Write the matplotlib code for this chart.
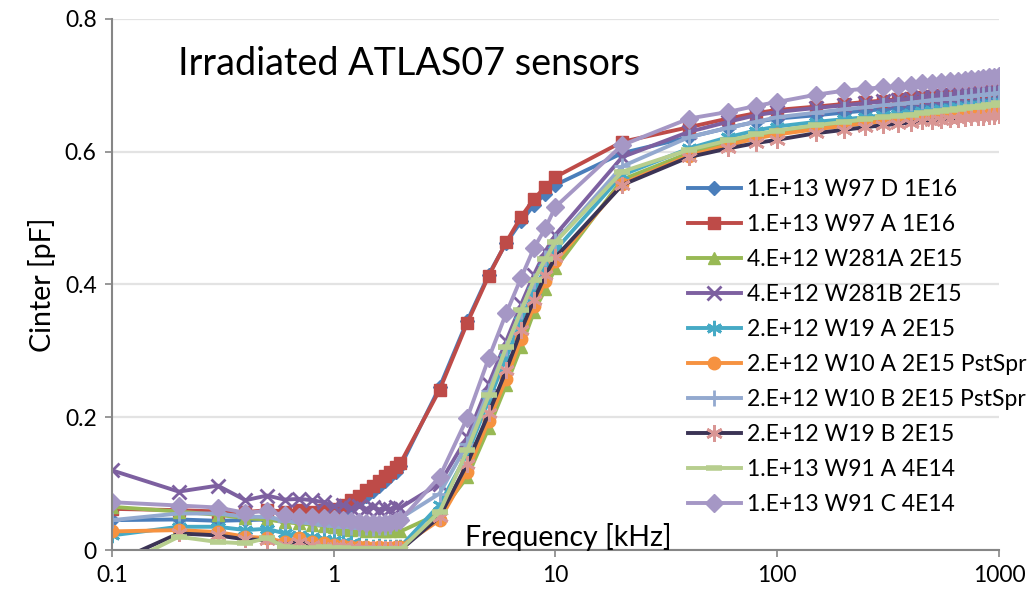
import matplotlib
matplotlib.use('Agg')
import matplotlib.pyplot as plt

plt.rcParams['font.family'] = ['Lato', 'DejaVu Sans']

# frequency points of the sweep [kHz]
freq = [0.1, 0.2, 0.3, 0.4, 0.5, 0.6, 0.7, 0.8, 0.9, 1.0,
        1.1, 1.2, 1.3, 1.4, 1.5, 1.6, 1.7, 1.8, 1.9, 2.0,
        3, 4, 5, 6, 7, 8, 9, 10,
        20, 40, 60, 80,
        100, 150, 200, 250, 300, 350, 400, 450, 500, 550,
        600, 650, 700, 750, 800, 850, 900, 950, 1000]

# Cinter [pF] per sensor
w97d = [0.045, 0.046, 0.044, 0.045, 0.046, 0.045, 0.046, 0.047, 0.048, 0.050,
        0.058, 0.066, 0.074, 0.082, 0.089, 0.097, 0.104, 0.111, 0.118, 0.126,
        0.245, 0.345, 0.415, 0.463, 0.495, 0.520, 0.537, 0.550,
        0.598, 0.622, 0.636, 0.645,
        0.650, 0.655, 0.659, 0.662, 0.664, 0.666, 0.668, 0.669, 0.671, 0.672,
        0.673, 0.674, 0.675, 0.676, 0.677, 0.678, 0.679, 0.680, 0.681]
w97a = [0.062, 0.060, 0.058, 0.057, 0.060, 0.058, 0.060, 0.058, 0.060, 0.062,
        0.068, 0.075, 0.082, 0.090, 0.097, 0.104, 0.111, 0.118, 0.125, 0.131,
        0.241, 0.342, 0.413, 0.464, 0.502, 0.529, 0.547, 0.562,
        0.615, 0.637, 0.650, 0.658,
        0.663, 0.668, 0.672, 0.675, 0.677, 0.679, 0.681, 0.683, 0.684, 0.686,
        0.687, 0.688, 0.689, 0.690, 0.691, 0.692, 0.693, 0.694, 0.696]
w281a = [0.065, 0.058, 0.053, 0.048, 0.046, 0.042, 0.040, 0.038, 0.036, 0.034,
         0.032, 0.030, 0.031, 0.029, 0.030, 0.028, 0.029, 0.028, 0.030, 0.028,
         0.055, 0.110, 0.184, 0.249, 0.306, 0.359, 0.393, 0.425,
         0.558, 0.598, 0.614, 0.623,
         0.630, 0.638, 0.643, 0.647, 0.650, 0.652, 0.654, 0.656, 0.658, 0.659,
         0.661, 0.662, 0.663, 0.664, 0.665, 0.666, 0.667, 0.668, 0.669]
w281b = [0.120, 0.088, 0.097, 0.075, 0.082, 0.076, 0.077, 0.075, 0.072, 0.066,
         0.068, 0.063, 0.066, 0.062, 0.065, 0.061, 0.064, 0.062, 0.065, 0.064,
         0.100, 0.170, 0.250, 0.315, 0.370, 0.415, 0.450, 0.475,
         0.592, 0.630, 0.645, 0.655,
         0.660, 0.666, 0.670, 0.673, 0.676, 0.678, 0.680, 0.682, 0.683, 0.685,
         0.686, 0.687, 0.688, 0.689, 0.690, 0.691, 0.692, 0.693, 0.694]
w19a = [0.022, 0.035, 0.035, 0.030, 0.032, 0.025, 0.022, 0.020, 0.016, 0.015,
        0.012, 0.010, 0.008, 0.006, 0.005, 0.006, 0.004, 0.005, 0.004, 0.005,
        0.068, 0.145, 0.225, 0.290, 0.345, 0.390, 0.425, 0.452,
        0.565, 0.605, 0.622, 0.632,
        0.638, 0.645, 0.649, 0.652, 0.655, 0.657, 0.659, 0.661, 0.663, 0.665,
        0.666, 0.668, 0.669, 0.670, 0.671, 0.672, 0.673, 0.674, 0.676]
w10a = [0.028, 0.030, 0.027, 0.020, 0.018, 0.012, 0.018, 0.012, 0.010, 0.008,
        0.006, 0.005, 0.004, 0.004, 0.003, 0.004, 0.003, 0.003, 0.004, 0.005,
        0.045, 0.118, 0.195, 0.258, 0.318, 0.368, 0.405, 0.435,
        0.552, 0.594, 0.610, 0.620,
        0.626, 0.634, 0.639, 0.643, 0.646, 0.648, 0.650, 0.652, 0.654, 0.655,
        0.657, 0.658, 0.659, 0.660, 0.661, 0.662, 0.663, 0.664, 0.665]
w10b = [0.045, 0.055, 0.055, 0.050, 0.050, 0.044, 0.042, 0.040, 0.038, 0.036,
        0.035, 0.034, 0.033, 0.034, 0.033, 0.035, 0.034, 0.036, 0.040, 0.048,
        0.085, 0.160, 0.240, 0.305, 0.360, 0.405, 0.440, 0.465,
        0.578, 0.622, 0.636, 0.645,
        0.652, 0.659, 0.664, 0.667, 0.670, 0.672, 0.674, 0.676, 0.678, 0.679,
        0.680, 0.682, 0.683, 0.684, 0.685, 0.686, 0.687, 0.688, 0.689]
w19b = [-0.020, 0.025, 0.022, 0.016, 0.015, 0.008, 0.012, 0.008, 0.005, 0.004,
        0.005, 0.003, 0.002, 0.001, 0.002, 0.001, 0.002, 0.001, 0.002, 0.000,
        0.050, 0.130, 0.206, 0.271, 0.331, 0.377, 0.414, 0.441,
        0.550, 0.592, 0.605, 0.613,
        0.618, 0.628, 0.633, 0.637, 0.640, 0.642, 0.644, 0.646, 0.647, 0.648,
        0.649, 0.650, 0.651, 0.652, 0.652, 0.653, 0.654, 0.654, 0.655]
w91a = [-0.030, 0.020, 0.012, 0.010, 0.018, 0.005, 0.003, 0.003, 0.004, 0.003,
        0.003, 0.002, 0.002, 0.001, 0.002, 0.001, 0.001, 0.002, 0.001, 0.001,
        0.057, 0.150, 0.233, 0.306, 0.361, 0.407, 0.438, 0.464,
        0.570, 0.603, 0.617, 0.626,
        0.632, 0.640, 0.645, 0.649, 0.652, 0.654, 0.656, 0.658, 0.660, 0.662,
        0.663, 0.664, 0.666, 0.667, 0.668, 0.669, 0.670, 0.671, 0.673]
w91c = [0.072, 0.067, 0.064, 0.056, 0.059, 0.052, 0.050, 0.050, 0.048, 0.046,
        0.045, 0.043, 0.042, 0.040, 0.041, 0.039, 0.040, 0.041, 0.043, 0.045,
        0.110, 0.199, 0.289, 0.357, 0.410, 0.455, 0.485, 0.517,
        0.610, 0.650, 0.660, 0.669,
        0.675, 0.686, 0.692, 0.695, 0.697, 0.699, 0.701, 0.703, 0.704, 0.705,
        0.706, 0.707, 0.708, 0.709, 0.710, 0.711, 0.712, 0.713, 0.714]

labels = ['1.E+13 W97 D 1E16', '1.E+13 W97 A 1E16', '4.E+12 W281A 2E15',
          '4.E+12 W281B 2E15', '2.E+12 W19 A 2E15', '2.E+12 W10 A 2E15 PstSpr',
          '2.E+12 W10 B 2E15 PstSpr', '2.E+12 W19 B 2E15', '1.E+13 W91 A 4E14',
          '1.E+13 W91 C 4E14']
series = [w97d, w97a, w281a, w281b, w19a, w10a, w10b, w19b, w91a, w91c]

# line colour, marker, marker colour, marker size, marker edge width
styles = [
    ('#4A7EBB', 'D', '#4A7EBB', 7, 1),
    ('#BE4B48', 's', '#BE4B48', 9, 1),
    ('#98B954', '^', '#98B954', 8, 1),
    ('#7D60A0', 'x', '#7D60A0', 10, 2),
    ('#46AAC5', (6, 2, 0), '#46AAC5', 11, 2),
    ('#F69240', 'o', '#F69240', 9, 1),
    ('#93A9CF', '+', '#93A9CF', 12, 2),
    ('#3B3355', (6, 2, 0), '#D99694', 12, 2),
    ('#B7CE8E', '_', '#B7CE8E', 11, 4),
    ('#A597C5', 'D', '#A597C5', 9, 1),
]

fig = plt.figure(figsize=(10.3, 5.99), dpi=100)
ax = fig.add_axes([0.1087, 0.0818, 0.8612, 0.8865])

for vals, lab, (lc, mk, mc, ms, mew) in zip(series, labels, styles):
    ax.plot(freq, vals, color=lc, lw=2.8, marker=mk, markersize=ms,
            markerfacecolor=mc, markeredgecolor=mc, markeredgewidth=mew,
            label=lab)

ax.set_xscale('log')
ax.set_xlim(0.1, 1000)
ax.set_ylim(0, 0.8)
ax.set_xticks([0.1, 1, 10, 100, 1000])
ax.set_xticklabels(['0.1', '1', '10', '100', '1000'])
ax.minorticks_off()
ax.set_yticks([0, 0.2, 0.4, 0.6, 0.8])
ax.set_yticklabels(['0', '0.2', '0.4', '0.6', '0.8'])
ax.tick_params(labelsize=16.5, length=5, width=1.2, color='#868686', pad=6)

ax.yaxis.grid(True, color='#E3E3E3', lw=1.6)
ax.set_axisbelow(True)
for s in ['top', 'right']:
    ax.spines[s].set_visible(False)
for s in ['left', 'bottom']:
    ax.spines[s].set_color('#868686')
    ax.spines[s].set_linewidth(1.5)

ax.set_ylabel('Cinter [pF]', fontsize=20.5, labelpad=6)
ax.text(0.515, 0.025, 'Frequency [kHz]', transform=ax.transAxes,
        fontsize=20.5, ha='center', va='center')
ax.text(0.075, 0.915, 'Irradiated ATLAS07 sensors', transform=ax.transAxes,
        fontsize=27.2, ha='left', va='center')

ax.legend(loc='upper left', bbox_to_anchor=(0.639, 0.715), frameon=False,
          fontsize=16.5, handlelength=2.3, labelspacing=0.61,
          handletextpad=0.26, borderaxespad=0)

fig.savefig('out.png', dpi=100)
